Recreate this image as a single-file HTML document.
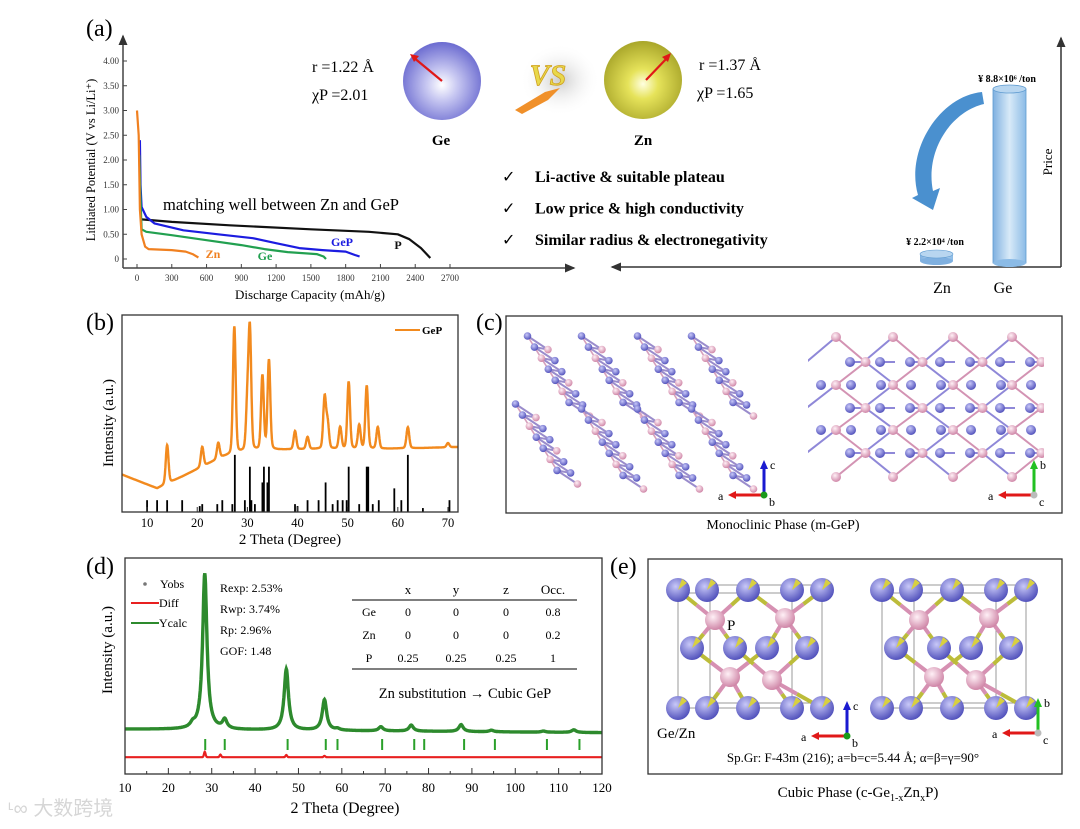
<!DOCTYPE html>
<html><head><meta charset="utf-8">
<style>
html,body{margin:0;padding:0;background:#fff;}
svg{display:block;font-family:"Liberation Serif",serif;}
</style></head>
<body>
<svg id="fig" width="1080" height="829" viewBox="0 0 1080 829" xmlns="http://www.w3.org/2000/svg">
<defs>
<radialGradient id="geSphere" cx="0.5" cy="0.55" r="0.55"><stop offset="0" stop-color="#ffffff"/><stop offset="0.35" stop-color="#c9c9f2"/><stop offset="1" stop-color="#6b6bd0"/></radialGradient>
<radialGradient id="znSphere" cx="0.5" cy="0.55" r="0.55"><stop offset="0" stop-color="#ffffe0"/><stop offset="0.35" stop-color="#e6e35a"/><stop offset="1" stop-color="#a9a62a"/></radialGradient>
<radialGradient id="blueAtom" cx="0.4" cy="0.35" r="0.7"><stop offset="0" stop-color="#c8c8f8"/><stop offset="1" stop-color="#4a4ab8"/></radialGradient>
<radialGradient id="pinkAtom" cx="0.4" cy="0.35" r="0.7"><stop offset="0" stop-color="#fff0f6"/><stop offset="1" stop-color="#cc7fa2"/></radialGradient>
<linearGradient id="cyl" x1="0" x2="1"><stop offset="0" stop-color="#7fb0e0"/><stop offset="0.5" stop-color="#d8eaf8"/><stop offset="1" stop-color="#8bbbe6"/></linearGradient>
<radialGradient id="vsShadow" cx="0.5" cy="0.5" r="0.5"><stop offset="0" stop-color="#aaa" stop-opacity="0.6"/><stop offset="1" stop-color="#fff" stop-opacity="0"/></radialGradient>
<marker id="arrBlack" markerWidth="8" markerHeight="8" refX="6" refY="4" orient="auto"><path d="M0,1 L7,4 L0,7 Z" fill="#333"/></marker>
<clipPath id="latClip"><rect x="808" y="325" width="236" height="160"/></clipPath>
</defs>
<g id="panelA"></g>
<g id="panelB"></g>
<g id="panelC"></g>
<g id="panelD"></g>
<g id="panelE"></g>
</svg>
<script>
// ===== Panel (a) discharge data =====
const aXTicks = [0,300,600,900,1200,1500,1800,2100,2400,2700];
const aYTicks = [0,0.5,1.0,1.5,2.0,2.5,3.0,3.5,4.0];
const aYTickLabels = ["0","0.50","1.00","1.50","2.00","2.50","3.00","3.50","4.00"];
const znCap = [0,15,25,40,70,100,300,420,480,530];
const znV   = [3.0,2.5,1.0,0.5,0.25,0.2,0.18,0.15,0.1,0.03];
const geCap = [20,30,40,80,300,600,900,1100,1300,1550,1610,1630];
const geV   = [2.1,1.2,0.6,0.55,0.48,0.38,0.28,0.2,0.14,0.1,0.05,0.0];
const gepCap = [25,30,40,80,150,400,700,1000,1200,1400,1600,1800,1880,1920];
const gepV   = [2.4,1.5,1.05,0.85,0.72,0.58,0.5,0.42,0.32,0.22,0.18,0.15,0.08,0.05];
const pCap = [40,300,800,1500,2000,2250,2350,2450,2530];
const pV   = [0.8,0.75,0.68,0.6,0.55,0.5,0.4,0.22,0.02];

// ===== Panel (b) XRD data =====
const bXTicks = [10,20,30,40,50,60,70];
const bBaseTheta = [5,12,17,25,30,35,45,55,65,72];
const bBaseInt   = [19,12,18,28,31,31.5,32,32,32.5,33];
const bPeakTheta = [14,21,24.2,27.4,30,30.5,33,34.3,39.5,42,45.4,46,48.5,50.2,52.3,53.8,56,62,70];
const bPeakTop   = [34,33,35,94,54,91,69,77,41,38,58,45,43,66,44,64,43,43,35];
const bStickTheta = [10,12,14,17,20.5,21,24,25,27,27.5,29.5,30.5,30.8,31.5,33,33.3,34,34.3,39.5,40,42,44.2,45.6,47,48,49,49.8,50.2,52.3,53.8,54.1,55,56.2,59.3,60.7,62,65,70.3];
const bStickInt   = [6,6,6,6,3,4,4,6,4,29,6,23,6,4,15,23,15,23,4,3,6,6,15,4,6,6,6,23,4,23,23,4,6,12,6,29,2,6];

// ===== Panel (d) refinement data =====
const dXTicks = [10,20,30,40,50,60,70,80,90,100,110,120];
const dPeakTheta = [25.6,28.4,33,47.2,56,59,69,76,87.5,94.5,106.5,113.5];
const dPeakTop   = [22.5,93,25,49,35,21.5,22.7,23.6,24,21.5,21.3,22];
const dBraggTheta = [28.5,33,47.5,56.3,59,69.3,76.7,79,88.2,95.3,107.3,114.8];
const dDiffTheta = [28.4,32,47.2,56];
const dDiffAmp = [2.5,1.2,1.0,0.6];

const NS="http://www.w3.org/2000/svg";
function mk(tag, attrs, parent, text){
  const e=document.createElementNS(NS,tag);
  for(const k in attrs) e.setAttribute(k,attrs[k]);
  if(text!==undefined) e.textContent=text;
  parent.appendChild(e); return e;
}
function interp(xs,ys,x){
  if(x<=xs[0]) return ys[0];
  for(let i=1;i<xs.length;i++) if(x<=xs[i]){const t=(x-xs[i-1])/(xs[i]-xs[i-1]);return ys[i-1]+t*(ys[i]-ys[i-1]);}
  return ys[ys.length-1];
}

/* ---------- Panel A ---------- */
const A=document.getElementById('panelA');
const ax=v=>137+(v/2700)*(450-137);
const ay=v=>259-(v/4)*(259-61);
let t;
t=mk('text',{x:86,y:36,'font-size':24},A,'(a)');


let l=mk('line',{x1:123,y1:268,x2:123,y2:36,stroke:'#444','stroke-width':1.5,'marker-end':'url(#arrBlack)'},A);


l=mk('line',{x1:123,y1:268,x2:574,y2:268,stroke:'#444','stroke-width':1.5,'marker-end':'url(#arrBlack)'},A);


aXTicks.forEach(v=>{
  mk('line',{x1:ax(v),y1:268,x2:ax(v),y2:264,stroke:'#444'},A);
  const tt=mk('text',{x:ax(v),y:281,'font-size':9,'text-anchor':'middle',fill:'#333'},A,String(v));
  
  
});
aYTicks.forEach((v,i)=>{
  mk('line',{x1:123,y1:ay(v),x2:127,y2:ay(v),stroke:'#444'},A);
  const tt=mk('text',{x:119,y:ay(v)+3,'font-size':9,'text-anchor':'end',fill:'#333'},A,aYTickLabels[i]);
  
  
});
t=mk('text',{x:310,y:299,'font-size':13,'text-anchor':'middle'},A,'Discharge Capacity (mAh/g)');


t=mk('text',{x:0,y:0,'font-size':12.5,'text-anchor':'middle',transform:'translate(95,160) rotate(-90)'},A,'Lithiated Potential (V vs Li/Li⁺)');


function curve(xs,ys,color,name){
  const d=xs.map((x,i)=>(i?'L':'M')+ax(x).toFixed(1)+','+ay(ys[i]).toFixed(1)).join(' ');
  const p=mk('path',{d:d,fill:'none',stroke:color,'stroke-width':2.2,'stroke-linejoin':'round'},A);
  
  
}
curve(pCap,pV,'#111','p-discharge-curve');
curve(gepCap,gepV,'#1c1ce0','gep-discharge-curve');
curve(geCap,geV,'#22a050','ge-discharge-curve');
curve(znCap,znV,'#f08020','zn-discharge-curve');
[['Zn',213,258,'#f08020'],['Ge',265,260,'#22a050'],['GeP',342,246,'#1c1ce0'],['P',398,249,'#111']].forEach(c=>{
  const tt=mk('text',{x:c[1],y:c[2],'font-size':12,'font-weight':'bold','text-anchor':'middle',fill:c[3]},A,c[0]);
  
  
});
t=mk('text',{x:163,y:210,'font-size':16.5},A,'matching well between Zn and GeP');



let g=mk('g',{},A);


mk('circle',{cx:442,cy:81,r:39,fill:'url(#geSphere)'},g);
mk('line',{x1:442,y1:81,x2:413,y2:57,stroke:'#e01818','stroke-width':2.2},g);
mk('path',{d:'M410,54 L419,56 L414,62 Z',fill:'#e01818'},g);
mk('text',{x:441,y:145,'font-size':15,'font-weight':'bold','text-anchor':'middle'},g,'Ge');
t=mk('text',{x:312,y:72,'font-size':16},A,'r =1.22 Å');


t=mk('text',{x:312,y:100,'font-size':16},A,'χP =2.01');


g=mk('g',{},A);


mk('circle',{cx:643,cy:80,r:39,fill:'url(#znSphere)'},g);
mk('line',{x1:646,y1:80,x2:668,y2:57,stroke:'#e01818','stroke-width':2.2},g);
mk('path',{d:'M671,53 L668,62 L662,57 Z',fill:'#e01818'},g);
mk('text',{x:643,y:145,'font-size':15,'font-weight':'bold','text-anchor':'middle'},g,'Zn');
t=mk('text',{x:699,y:70,'font-size':16},A,'r =1.37 Å');


t=mk('text',{x:697,y:98,'font-size':16},A,'χP =1.65');


g=mk('g',{},A);


mk('ellipse',{cx:560,cy:80,rx:40,ry:36,fill:'url(#vsShadow)'},g);
mk('path',{d:'M515,110 L545,92 L560,88 L548,100 L522,114 Z',fill:'#f0902a'},g);
mk('text',{x:548,y:85,'font-size':30,'font-weight':'bold','font-style':'italic','text-anchor':'middle',fill:'#e8d84a',stroke:'#d0a020','stroke-width':0.8},g,'VS');
['Li-active & suitable plateau','Low price & high conductivity','Similar radius & electronegativity'].forEach((s,i)=>{
  const y=182+i*31.5;
  const c=mk('text',{x:502,y:y,'font-size':16},A,'✓');
  
  
  const tt=mk('text',{x:535,y:y,'font-size':16,'font-weight':'bold'},A,s);
  
  
});
l=mk('line',{x1:1061,y1:267,x2:1061,y2:38,stroke:'#333','stroke-width':1.5,'marker-end':'url(#arrBlack)'},A);


l=mk('line',{x1:1061,y1:267,x2:612,y2:267,stroke:'#333','stroke-width':1.5,'marker-end':'url(#arrBlack)'},A);


t=mk('text',{x:0,y:0,'font-size':13,'text-anchor':'middle',transform:'translate(1052,162) rotate(-90)'},A,'Price');


g=mk('g',{},A);


mk('rect',{x:993,y:89,width:33,height:174,fill:'url(#cyl)',stroke:'#5f9bd0','stroke-width':0.8},g);
mk('ellipse',{cx:1009.5,cy:263,rx:16.5,ry:4,fill:'#8bbbe6'},g);
mk('ellipse',{cx:1009.5,cy:89,rx:16.5,ry:4,fill:'#b8d6f0',stroke:'#5f9bd0','stroke-width':0.8},g);
g=mk('g',{},A);


mk('rect',{x:920,y:254,width:33,height:7,fill:'url(#cyl)'},g);
mk('ellipse',{cx:936.5,cy:261,rx:16.5,ry:4,fill:'#7fb0e0'},g);
mk('ellipse',{cx:936.5,cy:254,rx:16.5,ry:4,fill:'#b8d6f0',stroke:'#5f9bd0','stroke-width':0.6},g);
t=mk('text',{x:1007,y:82,'font-size':10,'font-weight':'bold','text-anchor':'middle'},A,'¥ 8.8×10⁶ /ton');


t=mk('text',{x:935,y:245,'font-size':10,'font-weight':'bold','text-anchor':'middle'},A,'¥ 2.2×10⁴ /ton');


t=mk('text',{x:942,y:293,'font-size':16,'text-anchor':'middle'},A,'Zn');


t=mk('text',{x:1003,y:293,'font-size':16,'text-anchor':'middle'},A,'Ge');


let p=mk('path',{d:'M982,92 C940,96 905,150 918,195 L912,198 L933,210 L940,188 L933,191 C925,152 950,112 984,104 Z',fill:'#4a90cf'},A);



/* ---------- Panel B ---------- */
const B=document.getElementById('panelB');
const bx=v=>122+(v-5)*(458-122)/67;
const by=v=>512-v*(512-315)/100;
t=mk('text',{x:86,y:330,'font-size':24},B,'(b)');


bStickTheta.forEach((th,i)=>{
  const s=mk('line',{x1:bx(th),y1:512,x2:bx(th),y2:by(bStickInt[i]),stroke:'#000','stroke-width':1.8},B);
  
  
});
function bCurve(th){
  let v=interp(bBaseTheta,bBaseInt,th);
  bPeakTheta.forEach((c,i)=>{const base=interp(bBaseTheta,bBaseInt,c);const a=bPeakTop[i]-base;const z=(th-c)/0.38;v+=a*(0.85*Math.exp(-z*z)+0.15/(1+z*z));});
  return v;
}
let pts=[];
for(let th=5;th<=72;th+=0.05) pts.push(bx(th).toFixed(1)+','+by(bCurve(th)).toFixed(1));
p=mk('polyline',{points:pts.join(' '),fill:'none',stroke:'#f28a1e','stroke-width':2.4},B);


let r=mk('rect',{x:122,y:315,width:336,height:197,fill:'none',stroke:'#333','stroke-width':1.3},B);


bXTicks.forEach(v=>{
  mk('line',{x1:bx(v),y1:512,x2:bx(v),y2:507,stroke:'#333'},B);
  const tt=mk('text',{x:bx(v),y:527,'font-size':12.5,'text-anchor':'middle'},B,String(v));
  
  
});
t=mk('text',{x:290,y:544,'font-size':15,'text-anchor':'middle'},B,'2 Theta (Degree)');


t=mk('text',{x:0,y:0,'font-size':15,'text-anchor':'middle',transform:'translate(113,423) rotate(-90)'},B,'Intensity (a.u.)');


g=mk('g',{},B);


mk('line',{x1:395,y1:330,x2:420,y2:330,stroke:'#f28a1e','stroke-width':2},g);
mk('text',{x:422,y:334,'font-size':11,'font-weight':'bold'},g,'GeP');

/* ---------- Panel C ---------- */
const C=document.getElementById('panelC');
t=mk('text',{x:476,y:330,'font-size':24},C,'(c)');


r=mk('rect',{x:506,y:316,width:556,height:197,fill:'none',stroke:'#333','stroke-width':1.3},C);


t=mk('text',{x:783,y:529,'font-size':14,'text-anchor':'middle'},C,'Monoclinic Phase (m-GeP)');


const ribbonStarts=[[536,340],[590,340],[646,340],[700,340],[524,408],[590,413],[646,413],[700,413]];
ribbonStarts.forEach(s=>{
  const rg=mk('g',{},C);
  
  
  const atoms=[];
  for(let k=0;k<14;k++){
    const tt=k/13; const side=(k%2?1:-1)*10;
    atoms.push([s[0]+45*tt+side*0.85, s[1]+72*tt+side*0.4, (k%3===1)?'pink':'blue']);
  }
  for(let k=1;k<atoms.length;k++) mk('line',{x1:atoms[k-1][0],y1:atoms[k-1][1],x2:atoms[k][0],y2:atoms[k][1],stroke:'#9a8ccc','stroke-width':2},rg);
  for(let k=2;k<atoms.length;k+=2) mk('line',{x1:atoms[k-2][0],y1:atoms[k-2][1],x2:atoms[k][0],y2:atoms[k][1],stroke:'#d6a0bc','stroke-width':1.6},rg);
  atoms.forEach(a=>mk('circle',{cx:a[0],cy:a[1],r:3.8,fill:a[2]==='pink'?'url(#pinkAtom)':'url(#blueAtom)'},rg));
});
const lg=mk('g',{'clip-path':'url(#latClip)'},C);


const pinkX=[836,893,953,1012];
const rowsY=[337,362,385,408,430,453,477];
for(let j=0;j<rowsY.length-1;j++){
  pinkX.forEach(x=>{
    const x1=(j%2===0)?x:x+29.5;
    mk('line',{x1:x1,y1:rowsY[j],x2:x1+(j%2===0?29.5:-29.5),y2:rowsY[j+1],stroke:'#d393b3','stroke-width':2},lg);
    mk('line',{x1:x1,y1:rowsY[j],x2:x1-(j%2===0?29.5:-29.5),y2:rowsY[j+1],stroke:'#8f88d8','stroke-width':2},lg);
  });
}
[362,408,453].forEach(y=>{for(let x=850;x<=1030;x+=30) mk('line',{x1:x,y1:y,x2:x+15,y2:y,stroke:'#8f88d8','stroke-width':2},lg);});
[385,430].forEach(y=>{for(let x=821;x<=1040;x+=30) mk('circle',{cx:x,cy:y,r:5,fill:'url(#blueAtom)'},lg);});
[362,408,453].forEach(y=>{for(let x=850;x<=1030;x+=30) mk('circle',{cx:x,cy:y,r:5,fill:'url(#blueAtom)'},lg);});
rowsY.forEach((y,j)=>{pinkX.forEach(x=>mk('circle',{cx:(j%2===0)?x:x+29.5,cy:y,r:5,fill:'url(#pinkAtom)'},lg));});
function axesInd(parent,ox,oy,upColor,upLbl,dotColor,dotLbl,name){
  const ig=mk('g',{},parent);
  
  
  mk('line',{x1:ox,y1:oy,x2:ox-30,y2:oy,stroke:'#e01818','stroke-width':3},ig);
  mk('path',{d:`M${ox-36},${oy} L${ox-28},${oy-4} L${ox-28},${oy+4} Z`,fill:'#e01818'},ig);
  mk('line',{x1:ox,y1:oy,x2:ox,y2:oy-28,stroke:upColor,'stroke-width':3},ig);
  mk('path',{d:`M${ox-4},${oy-26} L${ox+4},${oy-26} L${ox},${oy-35} Z`,fill:upColor},ig);
  mk('circle',{cx:ox,cy:oy,r:3.5,fill:dotColor},ig);
  mk('text',{x:ox-46,y:oy+5,'font-size':12},ig,'a');
  mk('text',{x:ox+6,y:oy-26,'font-size':12},ig,upLbl);
  mk('text',{x:ox+5,y:oy+11,'font-size':12},ig,dotLbl);
}
axesInd(C,764,495,'#1a1ad0','c','#1a9a1a','b','c-axes-left');
axesInd(C,1034,495,'#22c022','b','#bbbbbb','c','c-axes-right');

/* ---------- Panel D ---------- */
const D=document.getElementById('panelD');
const dx=v=>125+(v-10)*(602-125)/110;
const dy=v=>774-v*(774-558)/100;
t=mk('text',{x:86,y:574,'font-size':24},D,'(d)');


function dCurve(th){
  let v=20.8-(th-10)*0.015;
  dPeakTheta.forEach((c,i)=>{const a=dPeakTop[i]-20.8;const w=0.6;v+=a/(1+((th-c)/w)**2);});
  return v;
}
function dDiff(th){
  let v=7.8;
  dDiffTheta.forEach((c,i)=>{v+=dDiffAmp[i]*Math.exp(-(((th-c)/0.25)**2));});
  return v;
}
pts=[];let pts2=[];
for(let th=10;th<=120;th+=0.08){pts.push(dx(th).toFixed(1)+','+dy(dCurve(th)).toFixed(1));pts2.push(dx(th).toFixed(1)+','+dy(dDiff(th)).toFixed(1));}
p=mk('polyline',{points:pts2.join(' '),fill:'none',stroke:'#e82020','stroke-width':2.2},D);


p=mk('polyline',{points:pts.join(' '),fill:'none',stroke:'#2d8a2d','stroke-width':3.4},D);


dBraggTheta.forEach(th=>{
  const s=mk('line',{x1:dx(th),y1:739,x2:dx(th),y2:750,stroke:'#2aa02a','stroke-width':2},D);
  
  
});
r=mk('rect',{x:125,y:558,width:477,height:216,fill:'none',stroke:'#333','stroke-width':1.3},D);


for(let v=10;v<=120;v+=5){mk('line',{x1:dx(v),y1:774,x2:dx(v),y2:v%10===0?768:771,stroke:'#333'},D);}
dXTicks.forEach(v=>{
  const tt=mk('text',{x:dx(v),y:792,'font-size':13,'text-anchor':'middle'},D,String(v));
  
  
});
t=mk('text',{x:345,y:813,'font-size':16,'text-anchor':'middle'},D,'2 Theta (Degree)');


t=mk('text',{x:0,y:0,'font-size':15,'text-anchor':'middle',transform:'translate(112,650) rotate(-90)'},D,'Intensity (a.u.)');


g=mk('g',{},D);


mk('circle',{cx:145,cy:584,r:1.8,fill:'#777'},g);
mk('text',{x:160,y:588,'font-size':12},g,'Yobs');
mk('line',{x1:131,y1:603,x2:159,y2:603,stroke:'#e82020','stroke-width':2},g);
mk('text',{x:159,y:607,'font-size':12},g,'Diff');
mk('line',{x1:131,y1:623,x2:159,y2:623,stroke:'#2d8a2d','stroke-width':2},g);
mk('text',{x:159,y:627,'font-size':12},g,'Ycalc');
['Rexp: 2.53%','Rwp: 3.74%','Rp: 2.96%','GOF: 1.48'].forEach((s,i)=>{
  const tt=mk('text',{x:220,y:592+i*21,'font-size':12},D,s);
  
  
});
g=mk('g',{},D);


const colX=[369,408,456,506,553];
['','x','y','z','Occ.'].forEach((s,i)=>mk('text',{x:colX[i],y:594,'font-size':13,'text-anchor':'middle'},g,s));
mk('line',{x1:352,y1:600,x2:577,y2:600,stroke:'#333','stroke-width':1.3},g);
[['Ge','0','0','0','0.8'],['Zn','0','0','0','0.2'],['P','0.25','0.25','0.25','1']].forEach((row,j)=>{
  row.forEach((s,i)=>mk('text',{x:colX[i],y:616+j*23,'font-size':12,'text-anchor':'middle'},g,s));
});
mk('line',{x1:352,y1:669,x2:577,y2:669,stroke:'#333','stroke-width':1.3},g);
t=mk('text',{x:465,y:698,'font-size':14.5,'text-anchor':'middle'},D,'Zn substitution → Cubic GeP');


t=mk('text',{x:8,y:815,'font-size':20,fill:'#d6d6d6','font-family':'"Liberation Sans","Noto Sans CJK SC",sans-serif'},D,'ᶫ∞ 大数跨境');



/* ---------- Panel E ---------- */
const E=document.getElementById('panelE');
t=mk('text',{x:610,y:574,'font-size':24},E,'(e)');


r=mk('rect',{x:648,y:559,width:414,height:215,fill:'none',stroke:'#333','stroke-width':1.3},E);


function cubic(off,name){
  const cg=mk('g',{},E);
  
  
  const o=off;
  mk('rect',{x:678+o,y:593,width:114,height:115,fill:'none',stroke:'#999','stroke-width':1},cg);
  mk('rect',{x:710+o,y:585,width:112,height:118,fill:'none',stroke:'#999','stroke-width':1},cg);
  const top=[678,707,748,792,822], mid=[692,735,767,807], pinks=[[715,620],[785,618],[730,677],[772,680]];
  const bonds=[[715,620,678,590],[715,620,748,590],[715,620,692,648],[715,620,735,648],
               [785,618,748,590],[785,618,822,590],[785,618,767,648],[785,618,807,648],
               [730,677,692,648],[730,677,767,648],[730,677,707,708],[730,677,748,708],
               [772,680,735,648],[772,680,807,648],[772,680,792,708],[772,680,822,708]];
  bonds.forEach(b=>{
    const mx=(b[0]+b[2])/2,my=(b[1]+b[3])/2;
    mk('line',{x1:b[0]+o,y1:b[1],x2:mx+o,y2:my,stroke:'#d690b2','stroke-width':4},cg);
    mk('line',{x1:mx+o,y1:my,x2:b[2]+o,y2:b[3],stroke:'#bcbc3a','stroke-width':4},cg);
  });
  [590,708].forEach(y=>top.forEach(x=>{mk('circle',{cx:x+o,cy:y,r:12,fill:'url(#blueAtom)'},cg);mk('path',{d:`M${x+o},${y} L${x+o+4},${y-11} L${x+o+9},${y-7} Z`,fill:'#d8d040'},cg);}));
  mid.forEach(x=>{mk('circle',{cx:x+o,cy:648,r:12,fill:'url(#blueAtom)'},cg);mk('path',{d:`M${x+o},648 L${x+o+4},637 L${x+o+9},641 Z`,fill:'#d8d040'},cg);});
  pinks.forEach(pp=>mk('circle',{cx:pp[0]+o,cy:pp[1],r:10,fill:'url(#pinkAtom)'},cg));
}
cubic(0,'cubic-structure-left');
cubic(204,'cubic-structure-right');
t=mk('text',{x:727,y:630,'font-size':15},E,'P');


t=mk('text',{x:657,y:738,'font-size':15},E,'Ge/Zn');


axesInd(E,847,736,'#1a1ad0','c','#1a9a1a','b','e-axes-left');
axesInd(E,1038,733,'#22c022','b','#bbbbbb','c','e-axes-right');
t=mk('text',{x:853,y:762,'font-size':13,'text-anchor':'middle'},E,'Sp.Gr: F-43m (216); a=b=c=5.44 Å; α=β=γ=90°');


t=mk('text',{x:858,y:797,'font-size':15,'text-anchor':'middle'},E);


t.innerHTML='Cubic Phase (c-Ge<tspan font-size="10" dy="4">1-x</tspan><tspan dy="-4">Zn</tspan><tspan font-size="10" dy="4">x</tspan><tspan dy="-4">P)</tspan>';
</script>
</body></html>
